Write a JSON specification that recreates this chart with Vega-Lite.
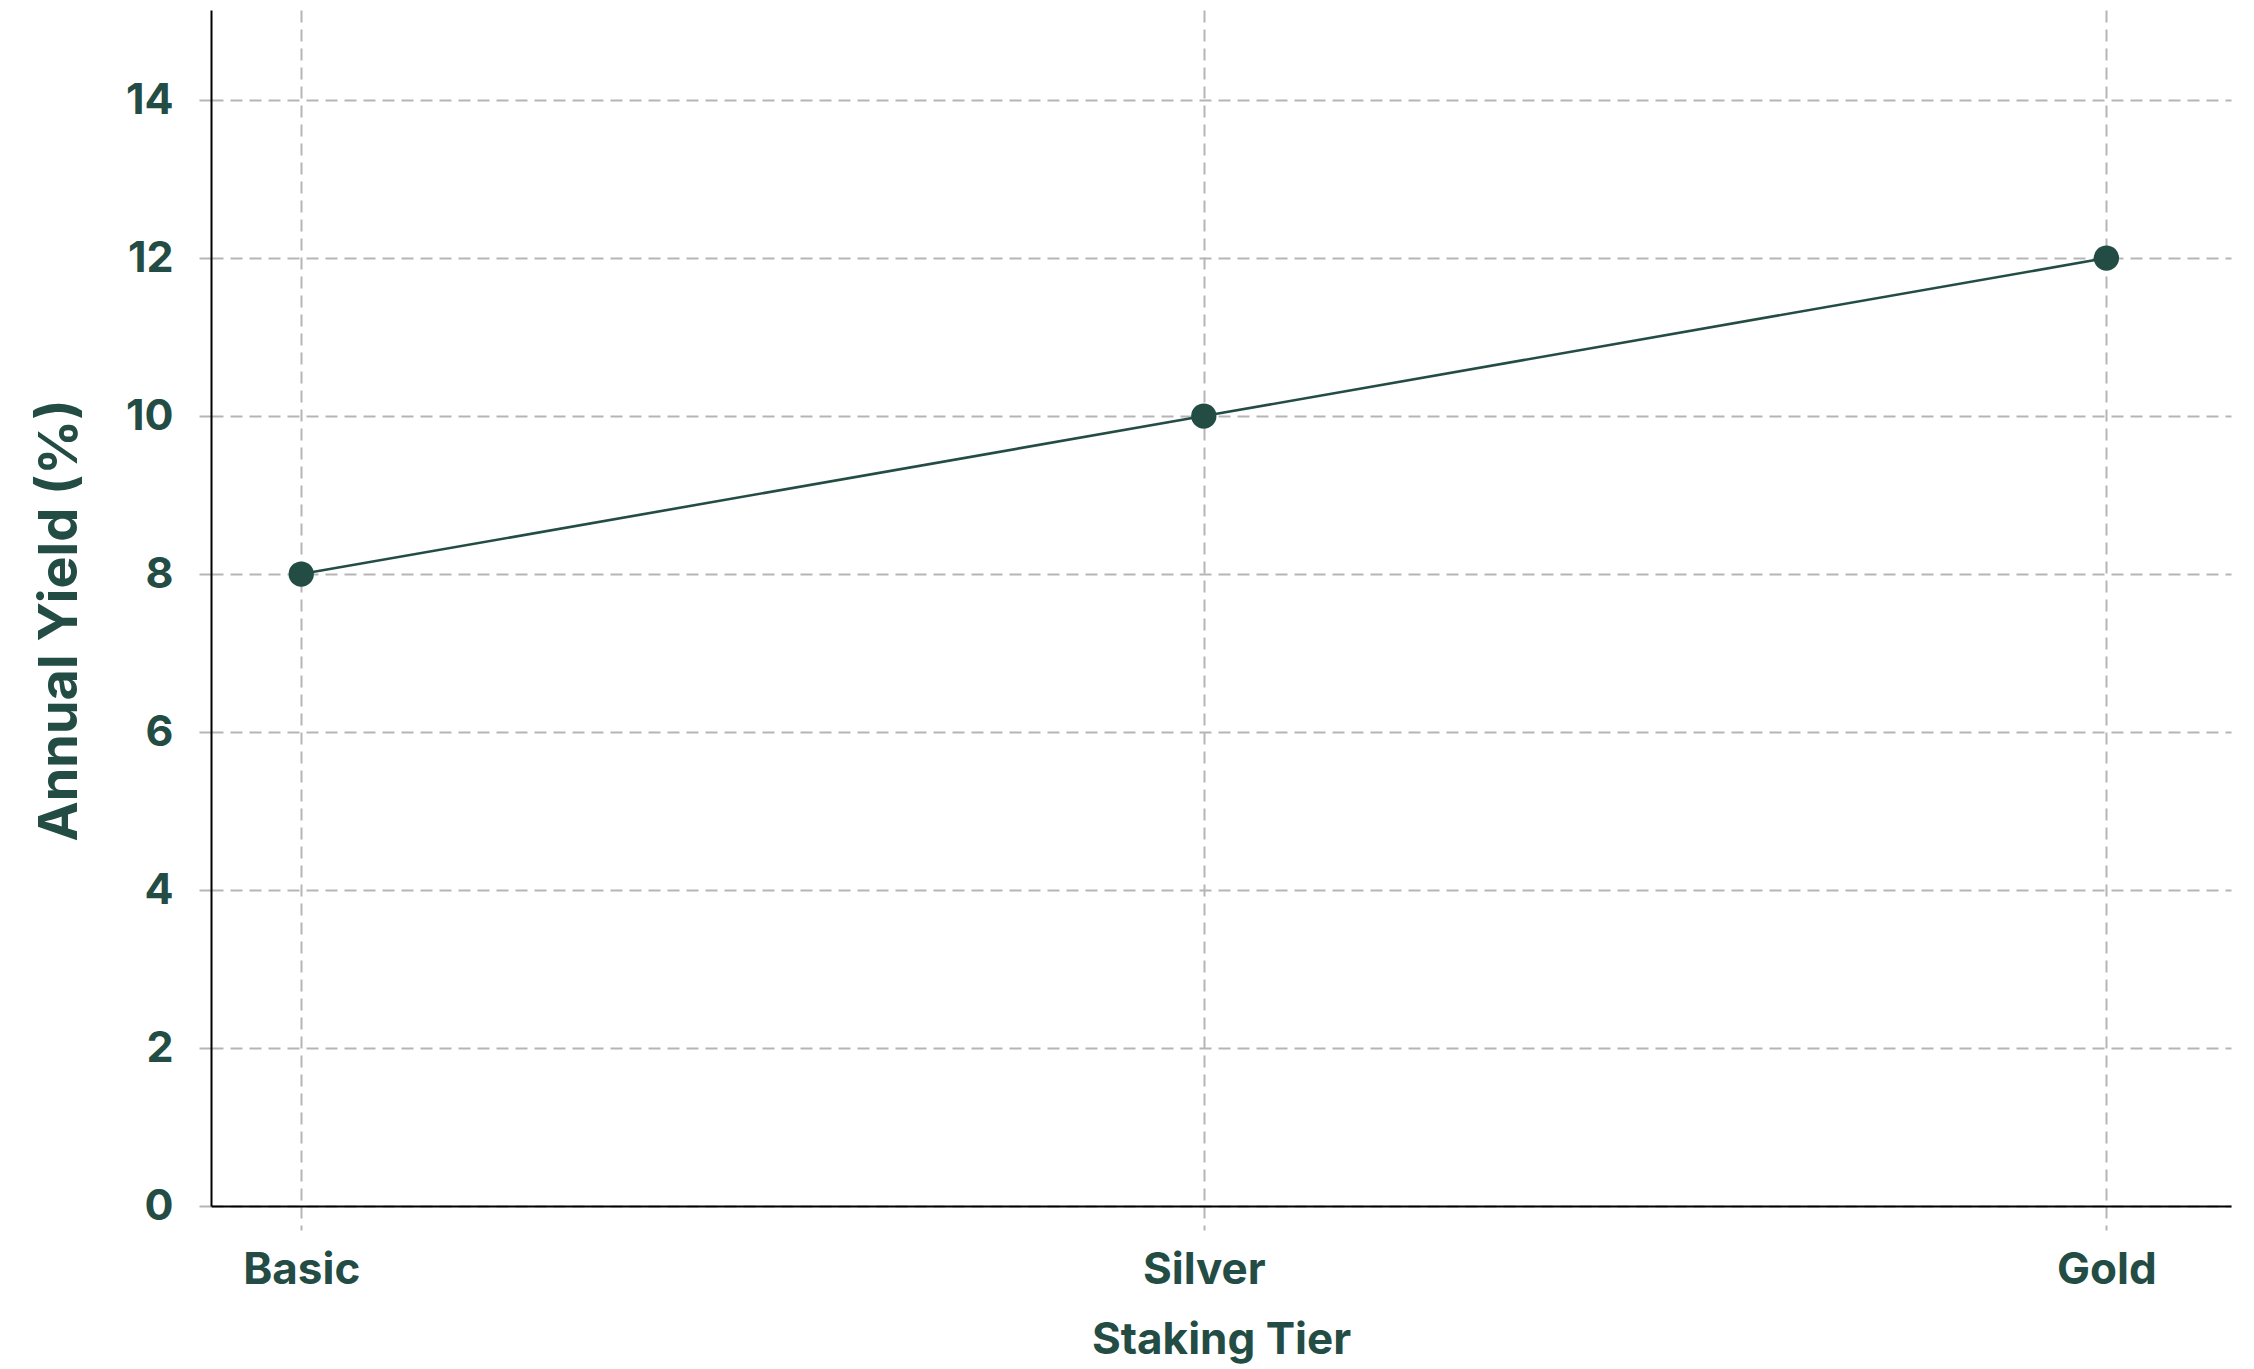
{
  "$schema": "https://vega.github.io/schema/vega-lite/v6.json",
  "autosize": {"type": "none"},
  "padding": {"left": 211, "top": 10, "right": 23, "bottom": 163},
  "width": 2020,
  "height": 1196,
  "background": "white",
  "config": {
    "view": {"stroke": null},
    "font": "Inter"
  },
  "data": {
    "values": [
      {"tier": "Basic", "yield": 8},
      {"tier": "Silver", "yield": 10},
      {"tier": "Gold", "yield": 12}
    ]
  },
  "encoding": {
    "x": {
      "field": "tier",
      "type": "ordinal",
      "sort": ["Basic", "Silver", "Gold"],
      "scale": {"type": "point", "padding": 0.119, "align": 0.42},
      "axis": {
        "title": "Staking Tier",
        "labelAngle": 0,
        "labelFont": "Inter",
        "labelFontSize": 44,
        "labelFontWeight": "bold",
        "labelColor": "#234d44",
        "labelPadding": 18,
        "titleFont": "Inter",
        "titleFontSize": 44,
        "titleFontWeight": "bold",
        "titleColor": "#234d44",
        "titlePadding": 26,
        "domainColor": "#000000",
        "domainWidth": 2,
        "tickColor": "#b5b5b5",
        "tickDash": [12, 7],
        "tickWidth": 2,
        "tickSize": 24,
        "grid": true,
        "gridColor": "#b5b5b5",
        "gridDash": [12, 7],
        "gridWidth": 2
      }
    },
    "y": {
      "field": "yield",
      "type": "quantitative",
      "scale": {"domain": [0, 15.14], "nice": false, "zero": true},
      "axis": {
        "title": "Annual Yield (%)",
        "values": [0, 2, 4, 6, 8, 10, 12, 14],
        "labelFont": "Inter",
        "labelFontSize": 43,
        "labelFontWeight": "bold",
        "labelColor": "#234d44",
        "labelPadding": 20,
        "titleFont": "Inter",
        "titleFontSize": 54,
        "titleFontWeight": "bold",
        "titleColor": "#234d44",
        "titlePadding": 38,
        "titleY": 610,
        "domainColor": "#000000",
        "domainWidth": 2,
        "tickColor": "#b5b5b5",
        "tickDash": [12, 7],
        "tickWidth": 2,
        "tickSize": 18,
        "grid": true,
        "gridColor": "#b5b5b5",
        "gridDash": [12, 7],
        "gridWidth": 2
      }
    }
  },
  "layer": [
    {"mark": {"type": "line", "color": "#234d44", "strokeWidth": 2.6}},
    {"mark": {"type": "point", "filled": true, "color": "#234d44", "size": 640, "opacity": 1}}
  ]
}
